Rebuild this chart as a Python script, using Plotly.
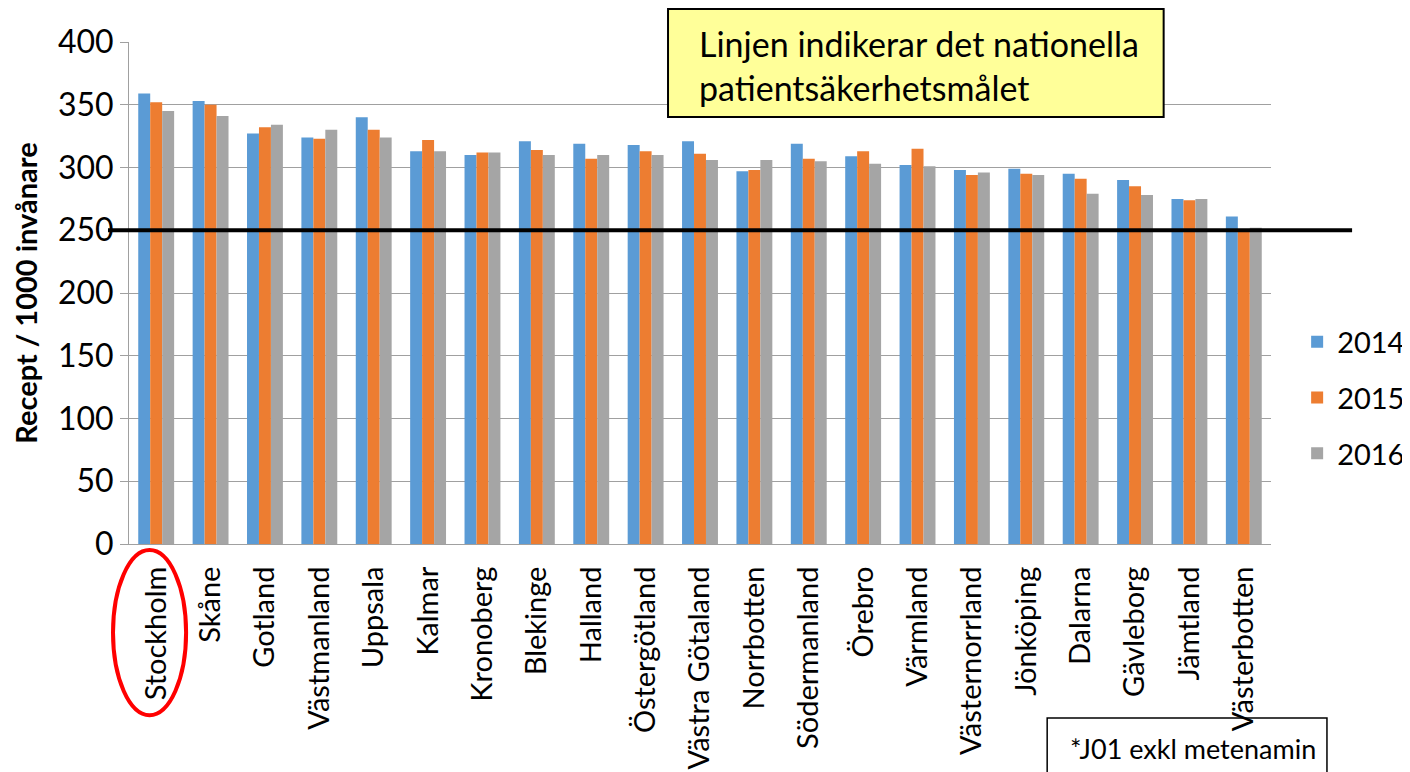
import plotly.graph_objects as go

regions = ["Stockholm", "Skåne", "Gotland", "Västmanland", "Uppsala", "Kalmar",
           "Kronoberg", "Blekinge", "Halland", "Östergötland", "Västra Götaland",
           "Norrbotten", "Södermanland", "Örebro", "Värmland", "Västernorrland",
           "Jönköping", "Dalarna", "Gävleborg", "Jämtland", "Västerbotten"]

v2014 = [359, 353, 327, 324, 340, 313, 310, 321, 319, 318, 321,
         297, 319, 309, 302, 298, 299, 295, 290, 275, 261]
v2015 = [352, 350, 332, 323, 330, 322, 312, 314, 307, 313, 311,
         298, 307, 313, 315, 294, 295, 291, 285, 274, 249]
v2016 = [345, 341, 334, 330, 324, 313, 312, 310, 310, 310, 306,
         306, 305, 303, 301, 296, 294, 279, 278, 275, 252]

years = ["2014", "2015", "2016"]
colors = ["#5B9BD5", "#ED7D31", "#A5A5A5"]
target = 250

y_ticks = [0, 50, 100, 150, 200, 250, 300, 350, 400]

FONT = "Lato"

fig = go.Figure()
for name, vals, col in zip(years, [v2014, v2015, v2016], colors):
    fig.add_trace(go.Bar(x=regions, y=vals, name=name, marker_color=col,
                         marker_line_width=0, legendgroup=name))

fig.update_layout(
    width=1402, height=764,
    margin=dict(l=121, r=139, t=34, b=228),
    plot_bgcolor="white", paper_bgcolor="white",
    barmode="group", bargap=0.34, bargroupgap=0,
    font=dict(family=FONT, color="black"),
    showlegend=True,
    legend=dict(xref="container", yref="container", x=0.9195, y=0.4895,
                xanchor="left", yanchor="middle",
                font=dict(size=29, family=FONT), tracegroupgap=15,
                bgcolor="rgba(0,0,0,0)", itemwidth=30),
)

fig.update_yaxes(range=[0, 400], tickvals=y_ticks, showgrid=True,
                 gridcolor="#A0A0A0", gridwidth=1, automargin=False,
                 showline=True, linecolor="#A0A0A0", linewidth=1,
                 ticks="outside", ticklen=8, tickcolor="#A0A0A0",
                 tickfont=dict(size=32, family=FONT),
                 title=dict(text="<b>Recept / 1000 invånare</b>",
                            font=dict(size=29, family=FONT), standoff=14),
                 zeroline=False)
fig.update_xaxes(range=[-0.5, len(regions) - 0.5], automargin=False,
                 showline=True, linecolor="#A0A0A0", linewidth=1,
                 tickangle=-90, tickfont=dict(size=29, family=FONT),
                 ticklabelstandoff=10, showgrid=False)

# national target line
fig.add_shape(type="line", xref="paper", yref="y", x0=-0.0184, x1=1.071,
              y0=target, y1=target, line=dict(color="black", width=4))

# yellow info box
fig.add_shape(type="rect", xref="paper", yref="paper", x0=0.472, x1=0.906,
              y0=0.8506, y1=1.0657, fillcolor="#FFFF99",
              line=dict(color="black", width=2), layer="above")
fig.add_annotation(xref="paper", yref="paper", x=0.497, y=0.954,
                   xanchor="left", yanchor="middle", align="left",
                   text="Linjen indikerar det nationella<br>patientsäkerhetsmålet",
                   showarrow=False, font=dict(size=34, family=FONT, color="black"))

# footnote box
fig.add_shape(type="rect", xref="paper", yref="paper", x0=0.804, x1=1.049,
              y0=-0.6, y1=-0.3466, fillcolor="rgba(0,0,0,0)",
              line=dict(color="black", width=1.5))
fig.add_annotation(xref="paper", yref="paper", x=0.822, y=-0.408,
                   xanchor="left", yanchor="middle",
                   text="*J01 exkl metenamin", showarrow=False,
                   font=dict(size=27, family=FONT, color="black"))

# red ellipse around Stockholm
fig.add_shape(type="circle", xref="paper", yref="paper", x0=-0.014, x1=0.050,
              y0=-0.341, y1=-0.012, line=dict(color="#FF0000", width=4),
              fillcolor="rgba(0,0,0,0)")

fig.write_html("out.html")
